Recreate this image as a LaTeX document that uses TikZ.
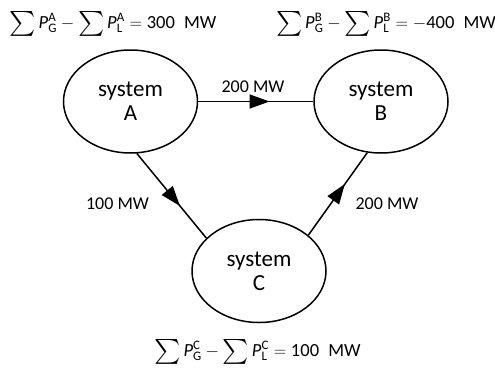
\documentclass[tikz,border=0pt]{standalone}
\usepackage{amsmath}
\usepackage{fontspec}
\setmainfont{Carlito}
\usetikzlibrary{arrows.meta,decorations.markings,shapes.geometric}
\newcommand{\pwr}[2]{\textit{P}_{\text{#1}}^{\text{#2}}}
\newcommand{\bigsum}{\mathop{\vcenter{\hbox{\fontsize{24}{24}\selectfont$\sum$}}}\nolimits}
\begin{document}
\begin{tikzpicture}[x=1pt,y=-1pt,
  sys/.style={ellipse, draw, line width=1.5pt, minimum width=134pt, minimum height=103pt,
    inner sep=0pt, align=center, font=\fontsize{23}{24}\selectfont},
  flow/.style={line width=1.5pt, postaction={decorate},
    decoration={markings, mark=at position 0.62 with {\arrow{Triangle[length=20pt,width=14pt]}}}},
  lbl/.style={font=\fontsize{18}{22}\selectfont},
  eq/.style={font=\fontsize{18.5}{22}\selectfont, inner sep=0pt}]
\useasboundingbox (0,0) rectangle (495,367);
\node[sys] (A) at (130.5,101.5) {system\\A};
\node[sys] (B) at (381,101.5) {system\\B};
\node[sys] (C) at (259,271) {system\\C};
\draw[flow] (A.east) -- (B.west);
\draw[flow] (A.-83) -- (C.148);
\draw[flow] (C.36) -- (B.255);
\node[lbl] (lab) at (253,87) {200 MW};
\node[lbl] (lac) at (117.5,204) {100 MW};
\node[lbl] (lcb) at (387,204) {200 MW};
\node[eq] (eqA) at (113,24) {$\bigsum\pwr{G}{A}-\bigsum\pwr{L}{A}=\text{300\hspace{0.5em}MW}$};
\node[eq] (eqB) at (386,24) {$\bigsum\pwr{G}{B}-\bigsum\pwr{L}{B}=-\text{400\hspace{0.5em}MW}$};
\node[eq] (eqC) at (257.5,352) {$\bigsum\pwr{G}{C}-\bigsum\pwr{L}{C}=\text{100\hspace{0.5em}MW}$};
\end{tikzpicture}
\end{document}
